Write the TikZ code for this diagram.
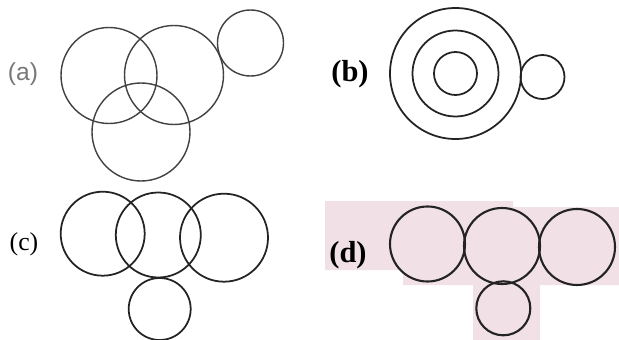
\documentclass[tikz,border=0pt]{standalone}
\usepackage{fontspec}
\setmainfont{Liberation Serif}
\setsansfont{Liberation Sans}
\usetikzlibrary{positioning}
\definecolor{ringgray}{RGB}{35,35,35}
\definecolor{softgray}{RGB}{65,65,65}
\definecolor{labelgray}{RGB}{120,120,120}
\definecolor{paperpink}{RGB}{241,225,231}

\begin{document}
\begin{tikzpicture}[
  x=0.03cm,
  y=-0.03cm,
  ring/.style={
    draw=ringgray,
    line width=1.5pt
  },
  soft ring/.style={
    draw=softgray,
    line width=1.2pt
  },
  bold ring/.style={
    draw=ringgray,
    line width=1.8pt
  },
  panel label/.style={
    inner sep=0pt,
    font=\fontsize{22}{24}\selectfont
  },
  light label/.style={
    panel label,
    text=labelgray,
    font=\fontsize{21}{24}\selectfont\sffamily
  }
]

\useasboundingbox (0,0) rectangle (619,340);

% Pasted scrap of pink paper behind panel (d).
\fill[paperpink]
  (325,201) -- (513,201) -- (513,207) -- (619,207) -- (619,285) --
  (540,285) -- (540,340) -- (473,340) -- (473,285) -- (403,285) --
  (403,270) -- (325,270) -- cycle;

% (a): three overlapping circles, one small circle touching.
\node[light label] (label-a) at (23,74) {(a)};
\foreach \cx/\cy/\r in {
  109/75.5/48,
  174/75/49.5,
  141/132/49,
  250.5/43/33
}{
  \draw[soft ring] (\cx,\cy) circle[radius=\r];
}

% (b): concentric circles with a small circle outside.
\node[panel label, font=\fontsize{26}{29}\selectfont\bfseries]
  (label-b) at (350,74) {(b)};
\foreach \r in {65.5,43,21.5}{
  \draw[ring] (455.5,73.5) circle[radius=\r];
}
\draw[ring] (542.5,77) circle[radius=22];

% (c): a row of overlapping circles and one below.
\node[panel label, font=\fontsize{22}{25}\selectfont]
  (label-c) at (24,244) {(c)};
\foreach \cx/\cy/\r in {
  102.7/233.7/42,
  158.3/235/42.5,
  224/237.7/44,
  159.7/309/31
}{
  \draw[ring] (\cx,\cy) circle[radius=\r];
}

% (d): a row of touching circles and one below.
\node[panel label, font=\fontsize{26}{29}\selectfont\bfseries]
  (label-d) at (348,255) {(d)};
\foreach \cx/\cy/\r in {
  427.5/244/37.5,
  502/246/38,
  577/247/38,
  503.3/308.3/27
}{
  \draw[bold ring] (\cx,\cy) circle[radius=\r];
}

\end{tikzpicture}
\end{document}
